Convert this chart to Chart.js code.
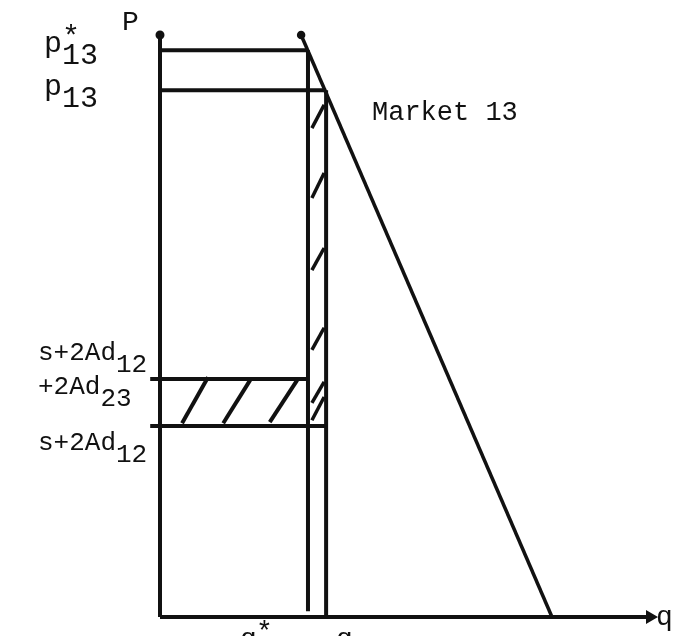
<!DOCTYPE html>
<html lang="en">
<head>
<meta charset="UTF-8">
<title>Market 13</title>
<script src="https://cdn.jsdelivr.net/npm/chart.js"></script>
<style>
  html, body { margin: 0; padding: 0; background: #fff; }
  #box { width: 685px; height: 636px; position: relative; }
</style>
</head>
<body>
<div id="box"><canvas id="diagram"></canvas></div>
<script>
// price levels on the P axis: p*13, p13, s+2Ad12+2Ad23, s+2Ad12
const priceLevels = [97.4, 90.5, 40.9, 32.8];
// quantities on the q axis: q*, q
const quantityLevels = [30.2, 33.9];
// demand curve of market 13
const demandQ = [28.8, 80];
const demandP = [100, 0];
// hatch strokes in the price band (q at bottom, q at top)
const bandHatchQ = [[4.5, 9.8], [12.9, 18.4], [22.4, 28.0]];
const bandHatchP = [[33.3, 41.2], [33.3, 40.7], [33.5, 40.7]];
// hatch strokes in the strip between q* and q
const stripHatchQ = [31.0, 33.5];
const stripHatchP = [[33.8, 37.8], [36.8, 40.4], [45.9, 49.7], [59.6, 63.4], [72.0, 76.3], [84.0, 88.0]];

const INK = '#111';
const FONT = '"Liberation Mono", "DejaVu Sans Mono", monospace';

function seg(q0, p0, q1, p1, extra) {
    return Object.assign({
        data: [{ x: q0, y: p0 }, { x: q1, y: p1 }],
        showLine: true,
        borderColor: INK,
        backgroundColor: INK,
        borderWidth: 4,
        pointRadius: 0,
        clip: false
    }, extra || {});
}

const [pStar, pMkt, bandHi, bandLo] = priceLevels;
const [qStar, qMkt] = quantityLevels;

const datasets = [
    // axes
    seg(0, 100, 0, 0, { pointRadius: [2.5, 0] }),
    seg(0, 0, 100, 0, { pointStyle: 'triangle', rotation: 90, pointRadius: [0, 4] }),
    // demand
    seg(demandQ[0], demandP[0], demandQ[1], demandP[1], { borderWidth: 3.5, pointRadius: [2.5, 0] }),
    // price lines
    seg(0, pStar, qStar, pStar),
    seg(0, pMkt, qMkt, pMkt),
    seg(-2, bandHi, qStar, bandHi),
    seg(-2, bandLo, qMkt, bandLo),
    // quantity lines
    seg(qStar, pStar, qStar, 1),
    seg(qMkt, pMkt, qMkt, 0)
];
bandHatchQ.forEach((q, i) => datasets.push(seg(q[0], bandHatchP[i][0], q[1], bandHatchP[i][1])));
stripHatchP.forEach(p => datasets.push(seg(stripHatchQ[0], p[0], stripHatchQ[1], p[1], { borderWidth: 3.5 })));

function label(ctx, x, y, main, sub, sup) {
    ctx.fillText(main, x, y);
    const w = ctx.measureText(main).width;
    if (sup) ctx.fillText(sup, x + w, y - 6);
    if (sub) ctx.fillText(sub, x + w, y + 12);
}

const labels = {
    id: 'labels',
    afterDatasetsDraw(chart) {
        const { ctx, scales: { x, y } } = chart;
        ctx.save();
        ctx.fillStyle = INK;
        ctx.textBaseline = 'alphabetic';
        ctx.textAlign = 'left';
        ctx.font = '28px ' + FONT;
        ctx.fillText('P', 122, 30);
        ctx.font = '30px ' + FONT;
        label(ctx, 44, y.getPixelForValue(pStar) + 2, 'p', '13', '*');
        label(ctx, 44, y.getPixelForValue(pMkt) + 5, 'p', '13');
        ctx.font = '26px ' + FONT;
        label(ctx, 38, y.getPixelForValue(bandHi) - 19, 's+2Ad', '12');
        label(ctx, 38, y.getPixelForValue(bandHi) + 15, '+2Ad', '23');
        label(ctx, 38, y.getPixelForValue(bandLo) + 24, 's+2Ad', '12');
        ctx.font = '27px ' + FONT;
        ctx.fillText('Market 13', 372, 120);
        ctx.font = '28px ' + FONT;
        ctx.fillText('q', 656, y.getPixelForValue(0) + 8);
        ctx.fillText('q', 240, 647);
        ctx.fillText('*', 256, 640);
        ctx.fillText('q', 336, 647);
        ctx.restore();
    }
};

new Chart(document.getElementById('diagram'), {
    type: 'scatter',
    data: { datasets },
    options: {
        responsive: true,
        maintainAspectRatio: false,
        animation: false,
        layout: { padding: { left: 160, right: 35, top: 35, bottom: 19 } },
        scales: {
            x: { type: 'linear', min: 0, max: 100, display: false },
            y: { type: 'linear', min: 0, max: 100, display: false }
        },
        plugins: { legend: { display: false }, tooltip: { enabled: false } }
    },
    plugins: [labels]
});
</script>
</body>
</html>
